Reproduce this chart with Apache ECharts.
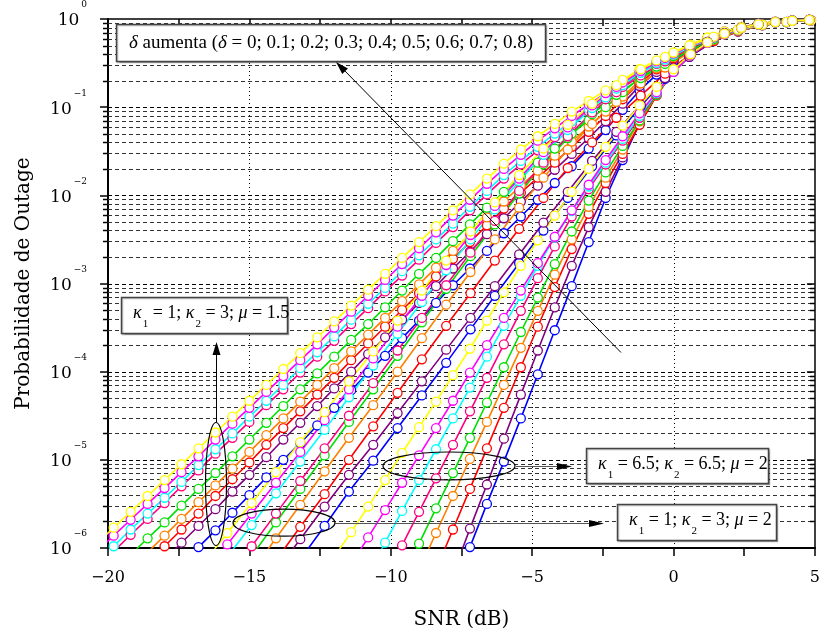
<!DOCTYPE html>
<html><head><meta charset="utf-8">
<script src="https://cdn.jsdelivr.net/npm/echarts@6/dist/echarts.min.js"></script>
<style>html,body{margin:0;padding:0;background:#fff}#c{width:823px;height:639px}</style>
</head><body><div id="c"></div>
<script>
// SNR grids (dB) of the markers
const snr06 = [-20.4,-19.8,-19.2,-18.6,-18.0,-17.4,-16.8,-16.2,-15.6,-15.0,-14.4,-13.8,-13.2,-12.6,-12.0,-11.4,-10.8,-10.2,-9.6,-9.0,-8.4,-7.8,-7.2,-6.6,-6.0,-5.4,-4.8,-4.2,-3.6,-3.0,-2.4,-1.8,-1.2,-0.6,0,0.6,1.2,1.8,2.4,3.0,3.6,4.2,4.8];
const snr086 = [-16.64,-15.78,-14.92,-14.06,-13.2,-12.34,-11.48,-10.62,-9.76,-8.90,-8.04,-7.18,-6.32,-5.46,-4.60,-3.74,-2.88,-2.02,-1.16,-0.30,0.56,1.42,2.28,3.14,4.00,4.86];

// delta values and colours
const deltas = [0,0.1,0.2,0.3,0.4,0.5,0.6,0.7,0.8];
const deltaColors = ['#0000ff','#800080','#ff0000','#ff8000','#00e000','#ff0080','#00ffff','#ff00ff','#ffff00'];

// log10(Pout), right-aligned on the grid (last value at the last SNR)
// Group A: k1=1, k2=3, mu=1.5  (grid snr06), order delta = 0 ... 0.8
const A_d0 = [-6.19,-5.99,-5.80,-5.60,-5.40,-5.20,-5.00,-4.81,-4.61,-4.41,-4.21,-4.01,-3.82,-3.62,-3.42,-3.22,-3.02,-2.83,-2.63,-2.43,-2.24,-2.05,-1.86,-1.67,-1.47,-1.26,-1.03,-0.81,-0.63,-0.48,-0.36,-0.25,-0.16,-0.10,-0.06,-0.035,-0.02,-0.01];
const A_d1 = [-6.14,-5.94,-5.75,-5.56,-5.36,-5.17,-4.97,-4.77,-4.58,-4.39,-4.19,-4.00,-3.80,-3.61,-3.41,-3.22,-3.03,-2.83,-2.64,-2.44,-2.26,-2.07,-1.89,-1.71,-1.53,-1.35,-1.16,-0.96,-0.76,-0.60,-0.46,-0.345,-0.241,-0.156,-0.098,-0.059,-0.034,-0.019,-0.009];
const A_d2 = [-6.18,-5.98,-5.79,-5.61,-5.41,-5.22,-5.03,-4.83,-4.64,-4.45,-4.26,-4.07,-3.87,-3.68,-3.49,-3.30,-3.11,-2.92,-2.72,-2.53,-2.34,-2.15,-1.97,-1.80,-1.63,-1.45,-1.28,-1.10,-0.91,-0.73,-0.57,-0.445,-0.336,-0.236,-0.153,-0.096,-0.058,-0.033,-0.018,-0.009];
const A_d3 = [-6.05,-5.86,-5.67,-5.48,-5.29,-5.10,-4.91,-4.72,-4.53,-4.34,-4.15,-3.96,-3.77,-3.58,-3.39,-3.20,-3.01,-2.82,-2.63,-2.44,-2.25,-2.07,-1.89,-1.72,-1.55,-1.39,-1.22,-1.05,-0.88,-0.70,-0.56,-0.43,-0.33,-0.232,-0.151,-0.095,-0.058,-0.033,-0.018,-0.009];
const A_d4 = [-6.27,-6.08,-5.89,-5.71,-5.52,-5.33,-5.15,-4.96,-4.77,-4.58,-4.39,-4.20,-4.02,-3.83,-3.64,-3.46,-3.27,-3.08,-2.89,-2.71,-2.52,-2.33,-2.14,-1.96,-1.79,-1.63,-1.47,-1.30,-1.15,-1.00,-0.83,-0.67,-0.54,-0.42,-0.32,-0.226,-0.148,-0.094,-0.057,-0.032,-0.017,-0.009];
const A_d5 = [-6.22,-6.04,-5.85,-5.67,-5.49,-5.30,-5.12,-4.93,-4.75,-4.57,-4.38,-4.20,-4.01,-3.83,-3.65,-3.46,-3.28,-3.09,-2.91,-2.73,-2.54,-2.36,-2.17,-1.99,-1.81,-1.65,-1.49,-1.34,-1.19,-1.05,-0.91,-0.77,-0.62,-0.51,-0.40,-0.305,-0.219,-0.144,-0.092,-0.056,-0.031,-0.016,-0.008];
const A_d6 = [-6.16,-5.98,-5.79,-5.61,-5.43,-5.25,-5.06,-4.88,-4.70,-4.51,-4.33,-4.15,-3.96,-3.78,-3.60,-3.41,-3.23,-3.05,-2.86,-2.68,-2.50,-2.32,-2.13,-1.95,-1.77,-1.61,-1.45,-1.30,-1.16,-1.02,-0.89,-0.75,-0.61,-0.50,-0.40,-0.30,-0.217,-0.143,-0.092,-0.056,-0.031,-0.016,-0.008];
const A_d7 = [-6.04,-5.86,-5.68,-5.50,-5.32,-5.14,-4.96,-4.77,-4.59,-4.41,-4.23,-4.05,-3.87,-3.69,-3.50,-3.32,-3.14,-2.96,-2.78,-2.60,-2.42,-2.23,-2.05,-1.87,-1.70,-1.54,-1.38,-1.24,-1.10,-0.97,-0.84,-0.72,-0.59,-0.48,-0.39,-0.295,-0.213,-0.142,-0.091,-0.056,-0.031,-0.016,-0.008];
const A_d8 = [-5.95,-5.77,-5.59,-5.41,-5.23,-5.05,-4.87,-4.69,-4.51,-4.33,-4.15,-3.97,-3.79,-3.61,-3.43,-3.25,-3.07,-2.89,-2.71,-2.53,-2.35,-2.17,-1.99,-1.81,-1.64,-1.48,-1.33,-1.19,-1.05,-0.93,-0.81,-0.69,-0.57,-0.47,-0.38,-0.29,-0.21,-0.14,-0.09,-0.055,-0.03,-0.015,-0.008];

// Group B: k1=1, k2=3, mu=2  (grid snr086)
const B_d0 = [-6.13,-5.75,-5.36,-5.01,-4.64,-4.27,-3.90,-3.52,-3.14,-2.77,-2.40,-2.03,-1.67,-1.32,-0.99,-0.68,-0.43,-0.25,-0.14,-0.07,-0.035,-0.015];
const B_d1 = [-6.27,-5.90,-5.53,-5.17,-4.83,-4.47,-4.11,-3.75,-3.39,-3.03,-2.67,-2.31,-1.96,-1.61,-1.28,-0.97,-0.67,-0.43,-0.25,-0.14,-0.07,-0.035,-0.015];
const B_d2 = [-6.14,-5.76,-5.39,-5.00,-4.62,-4.24,-3.86,-3.48,-3.11,-2.74,-2.38,-2.03,-1.69,-1.40,-1.12,-0.87,-0.62,-0.41,-0.25,-0.14,-0.07,-0.035,-0.015];
const B_d3 = [-6.27,-5.89,-5.51,-5.13,-4.75,-4.38,-4.00,-3.62,-3.24,-2.87,-2.50,-2.14,-1.80,-1.48,-1.19,-0.94,-0.73,-0.55,-0.38,-0.24,-0.135,-0.07,-0.035,-0.015];
const B_d4 = [-6.09,-5.71,-5.33,-4.95,-4.57,-4.20,-3.82,-3.44,-3.06,-2.69,-2.33,-1.98,-1.65,-1.35,-1.08,-0.86,-0.67,-0.51,-0.36,-0.23,-0.13,-0.07,-0.035,-0.015];
const B_d5 = [-6.35,-5.98,-5.61,-5.24,-4.87,-4.50,-4.13,-3.76,-3.39,-3.02,-2.65,-2.29,-1.95,-1.63,-1.33,-1.06,-0.83,-0.64,-0.48,-0.33,-0.215,-0.13,-0.068,-0.034,-0.015];
const B_d6 = [-6.10,-5.74,-5.38,-5.02,-4.66,-4.29,-3.93,-3.57,-3.21,-2.85,-2.50,-2.16,-1.84,-1.54,-1.26,-1.01,-0.79,-0.61,-0.46,-0.32,-0.21,-0.125,-0.067,-0.034,-0.015];
const B_d7 = [-6.32,-5.96,-5.61,-5.26,-4.91,-4.55,-4.20,-3.85,-3.49,-3.14,-2.79,-2.45,-2.12,-1.81,-1.51,-1.23,-0.98,-0.77,-0.59,-0.44,-0.31,-0.205,-0.12,-0.065,-0.033,-0.015];
const B_d8 = [-6.18,-5.83,-5.49,-5.14,-4.80,-4.46,-4.11,-3.77,-3.42,-3.08,-2.74,-2.41,-2.08,-1.77,-1.47,-1.20,-0.96,-0.75,-0.57,-0.43,-0.30,-0.20,-0.12,-0.065,-0.033,-0.015];

// Group C: k1=6.5, k2=6.5, mu=2  (grid snr06)
const C_d0 = [-6.50,-5.99,-5.50,-5.02,-4.53,-4.03,-3.53,-3.03,-2.53,-2.03,-1.60,-1.18,-0.86,-0.59,-0.40,-0.26,-0.16,-0.10,-0.06,-0.035,-0.02,-0.01];
const C_d1 = [-6.30,-5.78,-5.28,-4.76,-4.26,-3.76,-3.27,-2.80,-2.36,-1.96,-1.57,-1.19,-0.86,-0.59,-0.40,-0.26,-0.16,-0.10,-0.06,-0.035,-0.02,-0.01];
const C_d2 = [-6.25,-5.79,-5.33,-4.87,-4.41,-3.95,-3.49,-3.04,-2.61,-2.21,-1.86,-1.53,-1.20,-0.87,-0.60,-0.41,-0.27,-0.17,-0.10,-0.06,-0.035,-0.02,-0.01];
const C_d3 = [-6.25,-5.83,-5.41,-4.99,-4.57,-4.15,-3.73,-3.31,-2.90,-2.50,-2.13,-1.80,-1.48,-1.16,-0.86,-0.60,-0.41,-0.27,-0.17,-0.10,-0.06,-0.035,-0.02,-0.01];
const C_d4 = [-6.35,-5.95,-5.55,-5.15,-4.75,-4.35,-3.95,-3.55,-3.16,-2.78,-2.41,-2.06,-1.74,-1.44,-1.15,-0.86,-0.60,-0.41,-0.27,-0.17,-0.10,-0.06,-0.035,-0.02,-0.01];
const C_d5 = [-6.35,-5.97,-5.59,-5.21,-4.83,-4.45,-4.07,-3.69,-3.31,-2.94,-2.58,-2.24,-1.93,-1.65,-1.38,-1.12,-0.85,-0.60,-0.41,-0.27,-0.17,-0.10,-0.06,-0.035,-0.02,-0.01];
const C_d6 = [-6.30,-5.94,-5.58,-5.23,-4.88,-4.53,-4.18,-3.83,-3.48,-3.14,-2.80,-2.48,-2.18,-1.90,-1.63,-1.36,-1.10,-0.84,-0.60,-0.41,-0.27,-0.17,-0.10,-0.06,-0.035,-0.02,-0.01];
const C_d7 = [-6.19,-5.88,-5.57,-5.26,-4.95,-4.64,-4.33,-4.01,-3.70,-3.39,-3.08,-2.77,-2.47,-2.17,-1.88,-1.60,-1.33,-1.07,-0.83,-0.60,-0.41,-0.27,-0.17,-0.10,-0.06,-0.035,-0.02,-0.01];
const C_d8 = [-6.10,-5.82,-5.53,-5.23,-4.92,-4.63,-4.34,-4.04,-3.74,-3.42,-3.10,-2.80,-2.51,-2.23,-1.96,-1.70,-1.45,-1.21,-0.98,-0.77,-0.57,-0.40,-0.265,-0.165,-0.10,-0.06,-0.035,-0.02,-0.01];

// axis ticks
const xTickLabels = {'-20':'\u221220','-15':'\u221215','-10':'\u221210','-5':'\u22125','0':'0','5':'5'};
const yExponents = [0,-1,-2,-3,-4,-5,-6];
const xDottedLines = [-15,-10,-5,0];
const mantissas = [1,2,3,4,5,6,7,8,9];

const FONT = "'Liberation Serif',serif";
const FONT_AX = "'DejaVu Serif',serif";

const groups = [
  {grid: snr06, curves: [A_d0,A_d1,A_d2,A_d3,A_d4,A_d5,A_d6,A_d7,A_d8]},
  {grid: snr086, curves: [B_d0,B_d1,B_d2,B_d3,B_d4,B_d5,B_d6,B_d7,B_d8]},
  {grid: snr06, curves: [C_d0,C_d1,C_d2,C_d3,C_d4,C_d5,C_d6,C_d7,C_d8]}
];
function toPoints(xs, logs) {
  const off = xs.length - logs.length;
  return logs.map((v, i) => [xs[off + i], Math.pow(10, v)]);
}

// horizontal grid lines (all decade sub-values) & minor ticks
const hLines = [];
yExponents.forEach(e => {
  if (e === 0) return;
  mantissas.forEach(m => {
    if (e === -6 && m === 1) return;
    hLines.push([-20, m * Math.pow(10, e), m === 1 ? 1 : 0]);
  });
});
const vLines = xDottedLines.map(x => [x, 1e-3]);

const series = [];
series.push({
  type: 'custom', silent: true, z: 1,
  xAxisIndex: 0, yAxisIndex: 0,
  data: hLines, encode: {x: 0, y: 1},
  renderItem: (params, api) => {
    const cs = params.coordSys;
    const y = Math.round(api.coord([-20, api.value(1)])[1]) + 0.5;
    const major = api.value(2) === 1;
    const ch = [{type: 'line', shape: {x1: cs.x, y1: y, x2: cs.x + cs.width, y2: y},
      style: {stroke: major ? '#000' : '#333', lineWidth: 1, lineDash: [4, 3]}}];
    if (!major) {
      ch.push({type: 'line', shape: {x1: cs.x - 5, y1: y, x2: cs.x, y2: y}, style: {stroke: '#000', lineWidth: 1.5}});
      ch.push({type: 'line', shape: {x1: cs.x + cs.width - 5, y1: y, x2: cs.x + cs.width, y2: y}, style: {stroke: '#000', lineWidth: 1.5}});
    }
    return {type: 'group', children: ch};
  }
});
series.push({
  type: 'custom', silent: true, z: 1,
  xAxisIndex: 0, yAxisIndex: 0,
  data: vLines, encode: {x: 0, y: 1},
  renderItem: (params, api) => {
    const cs = params.coordSys;
    const x = Math.round(api.coord([api.value(0), 1e-3])[0]) + 0.5;
    return {type: 'line', shape: {x1: x, y1: cs.y, x2: x, y2: cs.y + cs.height},
      style: {stroke: '#000', lineWidth: 1, lineDash: [1, 3]}};
  }
});
groups.forEach((g, gi) => {
  g.curves.forEach((c, di) => {
    const col = deltaColors[di];
    series.push({
      type: 'line', name: 'G' + gi + ' \u03b4=' + deltas[di],
      data: toPoints(g.grid, c),
      xAxisIndex: 0, yAxisIndex: 0,
      symbol: 'circle', symbolSize: 9, showAllSymbol: true,
      lineStyle: {color: col, width: 1.6},
      itemStyle: {color: '#fff', borderColor: col, borderWidth: 1.3},
      z: 3, clip: true, silent: true
    });
  });
});

// annotation helpers
function arrowHead(tx, ty, dx, dy, len, hw, color) {
  const n = Math.hypot(dx, dy); dx /= n; dy /= n;
  const bx = tx - dx * len, by = ty - dy * len;
  return {type: 'polygon', z: 20, shape: {points: [[tx, ty], [bx - dy * hw, by + dx * hw], [bx + dy * hw, by - dx * hw]]},
    style: {fill: color}};
}
function richFor(fs) {
  return {
    k: {fontFamily: FONT, fontSize: fs, fontStyle: 'italic', color: '#000'},
    t: {fontFamily: FONT, fontSize: fs, color: '#000'},
    sub: {fontFamily: FONT, fontSize: 11, color: '#000', padding: [22, 0, 0, 1]}
  };
}
function boxText(x, y, text, fs) {
  return {type: 'text', z: 21, style: {x: x, y: y, text: text, rich: richFor(fs), verticalAlign: 'middle', align: 'left',
    font: fs + 'px ' + FONT, fill: '#000'}};
}
function box(x, y, w, h) {
  return {type: 'rect', z: 19, shape: {x: x + 0.5, y: y + 0.5, width: w, height: h},
    style: {fill: '#fff', stroke: '#444', lineWidth: 1.5, shadowColor: 'rgba(0,0,0,0.25)', shadowOffsetX: 1, shadowOffsetY: 1, shadowBlur: 1}};
}

const graphic = [
  // main arrow (delta increases)
  {type: 'line', z: 20, shape: {x1: 621, y1: 352.5, x2: 343, y2: 69}, style: {stroke: '#000', lineWidth: 1}},
  arrowHead(336, 62, -285, -290.5, 13, 4, '#000'),
  box(116, 24, 429, 37),
  boxText(129, 43, '{k|\u03b4}{t| aumenta (}{k|\u03b4}{t| = 0; 0.1; 0.2; 0.3; 0.4; 0.5; 0.6; 0.7; 0.8)}', 19),
  // group A
  {type: 'ellipse', z: 20, shape: {cx: 216, cy: 484, rx: 10.5, ry: 61.5}, style: {fill: 'none', stroke: '#000', lineWidth: 1.2}},
  {type: 'line', z: 20, shape: {x1: 216.5, y1: 422, x2: 216.5, y2: 352}, style: {stroke: '#000', lineWidth: 1}},
  arrowHead(216.5, 342, 0, -1, 13, 4, '#000'),
  box(121, 297, 166, 36),
  boxText(133, 313, '{k|\u03ba}{sub|1}{t| = 1; }{k|\u03ba}{sub|2}{t| = 3; }{k|\u03bc}{t| = 1.5}', 18),
  // group B
  {type: 'ellipse', z: 20, shape: {cx: 284, cy: 522.7, rx: 51, ry: 13.5}, style: {fill: 'none', stroke: '#000', lineWidth: 1.2}},
  {type: 'line', z: 20, shape: {x1: 335, y1: 523.5, x2: 592, y2: 523.5}, style: {stroke: '#555', lineWidth: 1.2}},
  arrowHead(604, 523.5, 1, 0, 15, 3.5, '#000'),
  box(617, 504, 159, 36),
  boxText(629, 520, '{k|\u03ba}{sub|1}{t| = 1; }{k|\u03ba}{sub|2}{t| = 3; }{k|\u03bc}{t| = 2}', 18),
  // group C
  {type: 'ellipse', z: 20, shape: {cx: 449, cy: 466, rx: 66, ry: 14}, style: {fill: 'none', stroke: '#000', lineWidth: 1.2}},
  {type: 'line', z: 20, shape: {x1: 516, y1: 466.5, x2: 560, y2: 466.5}, style: {stroke: '#555', lineWidth: 1.2}},
  arrowHead(572, 466.5, 1, 0, 15, 3.5, '#000'),
  box(586, 448, 182, 35),
  boxText(598, 464, '{k|\u03ba}{sub|1}{t| = 6.5; }{k|\u03ba}{sub|2}{t| = 6.5; }{k|\u03bc}{t| = 2}', 18)
];

const chart = echarts.init(document.getElementById('c'));
chart.setOption({
  animation: false,
  backgroundColor: '#fff',
  grid: {left: 108, right: 1, top: 19, bottom: 91, containLabel: false},
  xAxis: [{
    type: 'value', min: -20, max: 5, interval: 2.5, position: 'bottom',
    axisLine: {onZero: false, lineStyle: {color: '#000', width: 2}},
    axisTick: {inside: false, length: 8, lineStyle: {color: '#000', width: 1.5}},
    axisLabel: {margin: 22, fontFamily: FONT_AX, fontSize: 16, color: '#000',
      formatter: v => (xTickLabels[String(v)] !== undefined ? xTickLabels[String(v)] : '')},
    splitLine: {show: false},
    name: 'SNR (dB)', nameLocation: 'middle', nameGap: 62,
    nameTextStyle: {fontFamily: FONT_AX, fontSize: 20, color: '#000'}
  }, {
    type: 'value', min: -20, max: 5, interval: 2.5, position: 'top',
    axisLine: {onZero: false, lineStyle: {color: '#000', width: 1.5}},
    axisTick: {inside: true, length: 7, lineStyle: {color: '#000', width: 1.5}},
    axisLabel: {show: false}, splitLine: {show: false}
  }],
  yAxis: [{
    type: 'log', logBase: 10, min: 1e-6, max: 1, splitNumber: 6, position: 'left',
    axisLine: {onZero: false, lineStyle: {color: '#000', width: 2}},
    axisTick: {inside: false, length: 8, lineStyle: {color: '#000', width: 1.5}},
    axisLabel: {margin: 21, color: '#000',
      formatter: v => {
        const e = Math.round(Math.log10(v));
        return '{b|10}{s|' + (e === 0 ? '0' : '\u2212' + (-e)) + '}';
      },
      rich: {
        b: {fontFamily: FONT_AX, fontSize: 17, color: '#000', padding: [4, 0, 0, 0]},
        s: {fontFamily: FONT_AX, fontSize: 9, color: '#000', padding: [0, 0, 28, 2]}
      }},
    splitLine: {show: false},
    name: 'Probabilidade de Outage', nameLocation: 'middle', nameGap: 74,
    nameTextStyle: {fontFamily: FONT_AX, fontSize: 20, color: '#000'}
  }, {
    type: 'log', logBase: 10, min: 1e-6, max: 1, splitNumber: 6, position: 'right',
    axisLine: {onZero: false, lineStyle: {color: '#000', width: 1.5}},
    axisTick: {inside: true, length: 8, lineStyle: {color: '#000', width: 1.5}},
    axisLabel: {show: false}, splitLine: {show: false}
  }],
  series: series,
  graphic: graphic
});
</script>
</body></html>
